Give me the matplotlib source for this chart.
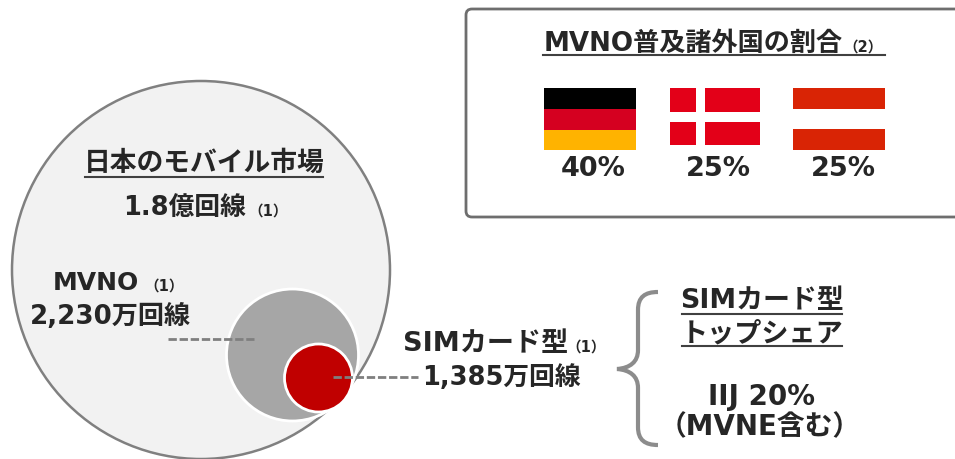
import matplotlib.pyplot as plt
from matplotlib.patches import Circle, Rectangle, FancyBboxPatch, PathPatch
from matplotlib.path import Path

plt.rcParams['font.family'] = ['DejaVu Sans', 'Noto Sans CJK JP']
plt.rcParams['font.weight'] = 'bold'

TXT = '#262626'
GREY = '#7f7f7f'

market_title = '日本のモバイル市場'
market_lines = '1.8億回線'
mvno_name = 'MVNO'
mvno_lines = '2,230万回線'
sim_name = 'SIMカード型'
sim_lines = '1,385万回線'
share_title = 'MVNO普及諸外国の割合'
share_labels = ['40%', '25%', '25%']
top_share = ['SIMカード型', 'トップシェア', 'IIJ 20%', '（MVNE含む）']

fig = plt.figure(figsize=(9.55, 4.59), dpi=100)
ax = fig.add_axes([0, 0, 1, 1])
ax.set_xlim(0, 955)
ax.set_ylim(459, 0)
ax.axis('off')

# circles
ax.add_patch(Circle((201, 270), 189, fc='#f2f2f2', ec='#808080', lw=1.8))
ax.add_patch(Circle((292.5, 355), 66, fc='#a6a6a6', ec='white', lw=2))
ax.add_patch(Circle((318.5, 378), 34, fc='#c00000', ec='white', lw=2))
ax.plot([168, 254], [338.5, 338.5], color=GREY, lw=2, ls=(0, (3, 1)))
ax.plot([333, 418], [377, 377], color=GREY, lw=2, ls=(0, (3, 1)))

# box on the right
ax.add_patch(FancyBboxPatch((466, 9), 520, 208, boxstyle='round,pad=0,rounding_size=6',
                            fc='white', ec='#6e6e6e', lw=2, clip_on=True))

# flags
for y, h, c in [(88, 21, '#000000'), (109, 21, '#d50020'), (130, 20, '#ffb300')]:
    ax.add_patch(Rectangle((544, y), 92, h, fc=c, ec='none'))
ax.add_patch(Rectangle((670, 88), 90, 57, fc='#e30018', ec='none'))
ax.add_patch(Rectangle((696, 88), 9, 57, fc='white', ec='none'))
ax.add_patch(Rectangle((670, 112), 90, 10, fc='white', ec='none'))
ax.add_patch(Rectangle((793, 88), 92, 21, fc='#d92405', ec='none'))
ax.add_patch(Rectangle((793, 129), 92, 21, fc='#d92405', ec='none'))


def txt(x, y, s, size=18, ha='center'):
    ax.text(x, y + 2, s, fontsize=size, ha=ha, va='center', color=TXT)


def underline(x0, x1, y):
    ax.plot([x0, x1], [y, y], color='#404040', lw=1.5)


txt(544, 42, share_title, 18.8, 'left')
txt(863, 45, '（2）', 10.5)
underline(543, 885, 55)
for x, s in zip([593, 718, 843], share_labels):
    txt(x, 167, s, 19.5)

txt(204, 162, market_title, 19.3)
underline(85, 323, 177)
txt(185, 206, market_lines, 18.5)
txt(268, 209, '（1）', 10.5)
txt(53, 281, mvno_name, 18, 'left')
txt(164, 284, '（1）', 10.5)
txt(110, 315, mvno_lines, 18.8)
txt(403, 342, sim_name, 19.5, 'left')
txt(586, 345, '（1）', 10.5)
txt(501, 376, sim_lines, 18.5)

txt(762, 299, top_share[0], 19.4)
underline(682, 842, 314)
txt(762, 332, top_share[1], 19.5)
underline(682, 842, 346)
txt(761, 395, top_share[2], 20)
txt(760, 425, top_share[3], 20)

# brace
verts = [(658, 292), (645, 292), (638, 297), (638, 310), (638, 340), (638, 340), (638, 350),
         (638, 362), (630, 368), (617, 369), (630, 370), (638, 376), (638, 388),
         (638, 398), (638, 398), (638, 427), (638, 440), (645, 445), (658, 445)]
codes = [Path.MOVETO] + [Path.CURVE4] * 18
ax.add_patch(PathPatch(Path(verts, codes), fc='none', ec='#8c8c8c', lw=3))

fig.savefig('out.png', dpi=100)
